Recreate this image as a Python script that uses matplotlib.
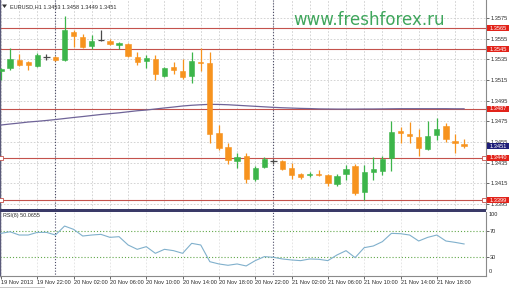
import matplotlib
matplotlib.use("Agg")
import matplotlib.pyplot as plt
from matplotlib.patches import Rectangle, Polygon
from matplotlib.transforms import blended_transform_factory

# ---------------- data ----------------
symbol_header = "EURUSD,H1 1.3453 1.3458 1.3449 1.3451"
watermark = "www.freshforex.ru"
rsi_header = "RSI(8) 50.0655"

time_labels = ["19 Nov 2013", "19 Nov 22:00", "20 Nov 02:00", "20 Nov 06:00",
               "20 Nov 10:00", "20 Nov 14:00", "20 Nov 18:00", "20 Nov 22:00",
               "21 Nov 02:00", "21 Nov 06:00", "21 Nov 10:00", "21 Nov 14:00",
               "21 Nov 18:00"]
time_label_bars = [0, 4, 8, 12, 16, 20, 24, 28, 32, 36, 40, 44, 48]
day_separator_bars = [6, 30]

opens = [1.3524, 1.3527, 1.3534, 1.3532, 1.3529, 1.3537, 1.3537, 1.3534, 1.3561, 1.3557,
         1.3548, 1.3554, 1.3553, 1.3549, 1.3550, 1.3537, 1.3533, 1.3535, 1.3519, 1.3528,
         1.3524, 1.3519, 1.3532, 1.3531, 1.3464, 1.3450, 1.3437, 1.3442, 1.3419, 1.3431,
         1.3437, 1.3437, 1.3430, 1.3424, 1.3423, 1.3424, 1.3423, 1.3414, 1.3424, 1.3432,
         1.3407, 1.3426, 1.3427, 1.3440, 1.3466, 1.3463, 1.3460, 1.3448, 1.3462, 1.3471,
         1.3456, 1.3453]
highs = [1.3527, 1.3546, 1.3540, 1.3533, 1.3541, 1.3540, 1.3538, 1.3577, 1.3563, 1.3560,
         1.3559, 1.3563, 1.3555, 1.3552, 1.3551, 1.3542, 1.3539, 1.3539, 1.3528, 1.3532,
         1.3535, 1.3542, 1.3546, 1.3542, 1.3472, 1.3454, 1.3444, 1.3444, 1.3432, 1.3441,
         1.3439, 1.3438, 1.3435, 1.3425, 1.3426, 1.3428, 1.3424, 1.3424, 1.3433, 1.3434,
         1.3433, 1.3441, 1.3442, 1.3475, 1.3470, 1.3474, 1.3468, 1.3475, 1.3478, 1.3473,
         1.3463, 1.3458]
lows = [1.3515, 1.3525, 1.3529, 1.3525, 1.3528, 1.3534, 1.3533, 1.3533, 1.3547, 1.3546,
        1.3545, 1.3553, 1.3549, 1.3545, 1.3537, 1.3530, 1.3527, 1.3515, 1.3518, 1.3521,
        1.3516, 1.3512, 1.3524, 1.3454, 1.3447, 1.3434, 1.3430, 1.3415, 1.3417, 1.3430,
        1.3434, 1.3428, 1.3419, 1.3419, 1.3421, 1.3422, 1.3413, 1.3413, 1.3418, 1.3404,
        1.3399, 1.3418, 1.3423, 1.3427, 1.3454, 1.3454, 1.3442, 1.3447, 1.3457, 1.3455,
        1.3444, 1.3449]
closes = [1.3526, 1.3535, 1.3530, 1.3530, 1.3539, 1.3537, 1.3534, 1.3563, 1.3558, 1.3547,
          1.3553, 1.3554, 1.3550, 1.3551, 1.3538, 1.3532, 1.3536, 1.3521, 1.3527, 1.3525,
          1.3518, 1.3533, 1.3531, 1.3463, 1.3449, 1.3438, 1.3441, 1.3419, 1.3430, 1.3439,
          1.3437, 1.3429, 1.3423, 1.3421, 1.3424, 1.3423, 1.3415, 1.3422, 1.3429, 1.3406,
          1.3426, 1.3429, 1.3439, 1.3465, 1.3464, 1.3461, 1.3449, 1.3461, 1.3468, 1.3458,
          1.3454, 1.3451]
ma_values = [1.34715, 1.34725, 1.34734, 1.34744, 1.34751, 1.34759, 1.34768, 1.34778,
             1.34788, 1.34797, 1.34807, 1.34817, 1.34825, 1.34833, 1.34843, 1.34853,
             1.34860, 1.34870, 1.34880, 1.34889, 1.34899, 1.34906, 1.34911, 1.34915,
             1.34914, 1.34911, 1.34906, 1.34901, 1.34896, 1.34891, 1.34886, 1.34882,
             1.34879, 1.34876, 1.34874, 1.34871, 1.34870, 1.34869, 1.34869, 1.34869,
             1.34870, 1.34870, 1.34871, 1.34872, 1.34873, 1.34873, 1.34873, 1.34873,
             1.34873, 1.34873, 1.34872, 1.34872]
rsi_values = [66, 68.4, 63.5, 63.5, 67.5, 67.5, 63.5, 77, 72, 62,
              63.5, 64.5, 60, 61, 48.5, 42, 46, 36, 42, 40,
              36, 51, 48.5, 23.4, 20, 18, 20, 17, 25, 31,
              30, 27.5, 26, 25, 27.5, 27, 25, 33.5, 40, 29.5,
              44.5, 47, 53.5, 66, 65.5, 63.5, 54.5, 60, 63.5, 54.5,
              52.5, 50.0655]

level_lines = [1.3565, 1.3545, 1.3487, 1.3440, 1.3399]
anchored_levels = [1.3440, 1.3399]
current_price = 1.3451
price_ticks = [1.3575, 1.3555, 1.3535, 1.3515, 1.3495, 1.3475, 1.3455, 1.3435, 1.3415, 1.3395]
rsi_levels = [30, 70]

# ---------------- styles ----------------
C_UP = "#3cb54a"
C_DOWN = "#f7931e"
C_DOJI = "#4a4a4a"
C_LEVEL = "#c4524c"
C_BOX = "#e2231a"
C_CUR = "#1e1e78"
C_MA = "#6f6498"
C_RSI = "#80b0cc"
C_RSILVL = "#62a84a"
C_GRID = "#cdcdcd"
C_TXT = "#2a2a2a"
FONT = "Liberation Sans"
FS = 4.1

W, H = 510, 288
fig = plt.figure(figsize=(W / 100, H / 100), dpi=100)
fig.patch.set_facecolor("white")


def px_axes(x0, y0, x1, y1):
    return fig.add_axes([x0 / W, 1 - y1 / H, (x1 - x0) / W, (y1 - y0) / H])


ax = px_axes(0, 0, 486, 209)
axr = px_axes(0, 212, 486, 276)

step = 9.08
xlim = (-1 / step, 485 / step)
n = len(opens)
xs = list(range(n))

# ---------------- main panel ----------------
ax.set_xlim(*xlim)
ax.set_ylim(1.33903, 1.35924)
ax.set_facecolor("white")

for t in price_ticks:
    ax.axhline(t, color=C_GRID, lw=0.6, ls=(0, (2, 2)), zorder=0)
ax.vlines(list(range(0, 54, 2)), 1.33903, 1.35924, color=C_GRID, lw=0.6,
          linestyles=(0, (2, 2)), zorder=0)
ax.vlines(day_separator_bars, 1.33903, 1.35924, color="#4a4a66", lw=0.8,
          linestyles=(0, (1, 1.6)), zorder=1)

for lv in level_lines:
    ax.axhline(lv, color=C_LEVEL, lw=0.8, zorder=2)
for lv in anchored_levels:
    ax.plot([xlim[0] + 0.15, 53.2], [lv, lv], ls="none", marker="s", ms=2.2,
            mfc="white", mec=C_LEVEL, mew=0.6, clip_on=False, zorder=3)

ax.plot(xs, ma_values, color=C_MA, lw=0.9, zorder=3)

body_w = 0.58
for i, (o, h, l, c) in enumerate(zip(opens, highs, lows, closes)):
    if c > o:
        col = C_UP
    elif c < o:
        col = C_DOWN
    else:
        col = C_DOJI
    ax.vlines(i, l, h, color=col, lw=0.9, zorder=4)
    if c == o:
        ax.hlines(o, i - 0.35, i + 0.35, color=col, lw=0.9, zorder=4)
    else:
        ax.bar(i, abs(c - o), bottom=min(o, c), width=body_w, color=col,
               edgecolor=col, lw=0.4, zorder=5)

for side in ["top", "bottom"]:
    ax.spines[side].set_visible(False)
ax.spines["left"].set_color("#5a5a7a")
ax.spines["left"].set_linewidth(1.0)
ax.spines["right"].set_color("#8a8a8a")
ax.spines["right"].set_linewidth(0.8)
ax.set_xticks([])
ax.yaxis.tick_right()
ax.set_yticks(price_ticks)
ax.set_yticklabels([f"{t:.4f}" for t in price_ticks])
ax.tick_params(axis="y", length=2, width=0.5, pad=1, labelsize=FS, colors=C_TXT)
for lab in ax.get_yticklabels():
    lab.set_fontfamily(FONT)

blend = blended_transform_factory(ax.transAxes, ax.transData)
box_x0 = 487 / 486
box_w = 23 / 486
box_h = 0.00058
for lv, fc in [(v, C_BOX) for v in level_lines] + [(current_price, C_CUR)]:
    ax.add_patch(Rectangle((box_x0, lv - box_h / 2), box_w, box_h, transform=blend,
                           facecolor=fc, edgecolor="none", clip_on=False, zorder=6))
    ax.text(box_x0 + box_w / 2, lv, f"{lv:.4f}", transform=blend, ha="center",
            va="center", color="white", fontsize=FS, family=FONT, clip_on=False,
            zorder=7)

# header & watermark
fig.patches.append(Polygon([[2 / W, 1 - 4.5 / H], [7 / W, 1 - 4.5 / H], [4.5 / W, 1 - 8 / H]],
                           closed=True, transform=fig.transFigure, facecolor="#333333",
                           edgecolor="none"))
fig.text(10 / W, 1 - 6.3 / H, symbol_header, ha="left", va="center", fontsize=4.0,
         family=FONT, color=C_TXT)
fig.text(369 / W, 1 - 25 / H, watermark, ha="center", va="baseline", fontsize=12,
         family="DejaVu Sans", color="#3fa65c")

# thick separator between panels
fig.patches.append(Rectangle((0, 1 - 212 / H), 486 / W, 2.7 / H, transform=fig.transFigure,
                             facecolor="#3a3a68", edgecolor="none"))

# ---------------- RSI panel ----------------
axr.set_xlim(*xlim)
axr.set_ylim(1.9, 98.1)
axr.vlines(time_label_bars, 0, 100, color="#e2e2e2", lw=0.6,
           linestyles=(0, (2, 2)), zorder=0)
for lv in rsi_levels:
    axr.axhline(lv, color=C_RSILVL, lw=0.8, ls=(0, (1, 1.8)), zorder=1)
axr.vlines(day_separator_bars, 0, 100, color="#4a4a66", lw=0.8,
           linestyles=(0, (1, 1.6)), zorder=1)
axr.plot(xs, rsi_values, color=C_RSI, lw=0.8, zorder=3)
axr.text(3 / 486, (276 - 216) / 64, rsi_header, transform=axr.transAxes, ha="left",
         va="center", fontsize=3.9, family=FONT, color=C_TXT)

axr.spines["top"].set_visible(False)
axr.spines["left"].set_color("#5a5a7a")
axr.spines["left"].set_linewidth(1.0)
axr.spines["right"].set_color("#8a8a8a")
axr.spines["right"].set_linewidth(0.8)
axr.spines["bottom"].set_color("#8a8a8a")
axr.spines["bottom"].set_linewidth(0.8)
axr.yaxis.tick_right()
axr.set_yticks(rsi_levels)
axr.set_yticklabels([str(v) for v in rsi_levels])
axr.tick_params(axis="y", length=2, width=0.5, pad=1, labelsize=FS, colors=C_TXT)
for lab in axr.get_yticklabels():
    lab.set_fontfamily(FONT)
axr.text(489 / 486, (276 - 215) / 64, "100", transform=axr.transAxes, ha="left",
         va="center", fontsize=FS, family=FONT, color=C_TXT, clip_on=False)
axr.text(489 / 486, (276 - 271.7) / 64, "0", transform=axr.transAxes, ha="left",
         va="center", fontsize=FS, family=FONT, color=C_TXT, clip_on=False)

axr.set_xticks(time_label_bars)
axr.set_xticklabels(time_labels, ha="left")
axr.tick_params(axis="x", length=2, width=0.5, pad=1.2, labelsize=FS, colors=C_TXT)
for lab in axr.get_xticklabels():
    lab.set_fontfamily(FONT)

# bottom tab strip
fig.patches.append(Rectangle((0, 0), 45 / W, 1.2 / H, transform=fig.transFigure,
                             facecolor="#c8c8c8", edgecolor="none"))

fig.savefig("out.png", dpi=100, facecolor="white")
